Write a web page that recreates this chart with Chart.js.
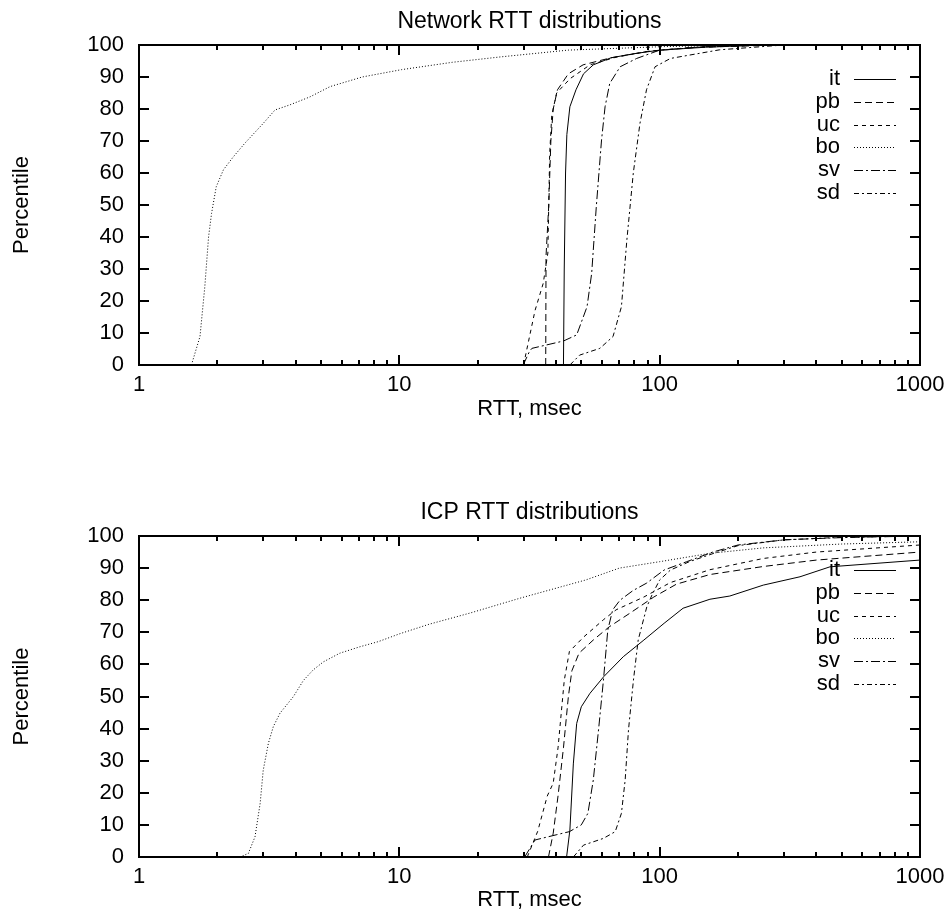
<!DOCTYPE html>
<html>
<head>
<meta charset="utf-8">
<script src="https://cdn.jsdelivr.net/npm/chart.js@4.4.1/dist/chart.umd.min.js"></script>
<style>
html, body { margin: 0; padding: 0; background: #fff; overflow: hidden; }
canvas { position: absolute; left: 0; }
#netChart { top: 0; }
#icpChart { top: 491px; }
</style>
</head>
<body>
<canvas id="netChart" width="948" height="440"></canvas>
<canvas id="icpChart" width="948" height="423"></canvas>
<script>
// Tick labels
const xTickValues = [1, 10, 100, 1000];
const yTickValues = [0, 10, 20, 30, 40, 50, 60, 70, 80, 90, 100];
const seriesLabels = ['it', 'pb', 'uc', 'bo', 'sv', 'sd'];

// Network RTT distributions: [RTT msec, percentile]
const netIt = [[42.7,0],[43,30],[43.5,60],[44,72],[45.2,80.7],[47.7,86],[51,91],[55.6,93.8],[65,96],[80,97.3],[100,98.4],[150,99.3],[250,100]];
const netPb = [[36.5,0],[36.6,34],[37.5,50],[38.2,70],[39,80],[40.5,86],[44.6,91],[50.8,93.8],[65,96],[90,98],[140,99.3],[300,100]];
const netUc = [[30,0],[33.2,17],[35.7,25.5],[37.2,35],[37.8,66],[38.5,78],[40.2,85],[45.3,89.5],[54,93.8],[68,96.2],[90,98],[130,99.2],[250,100]];
const netBo = [[1.59,0],[1.715,8.9],[1.79,24.5],[1.85,40],[1.9,47.4],[1.98,55.7],[2.11,61],[2.3,65],[2.55,69.3],[3.0,75.5],[3.33,79.7],[3.8,81.3],[4.54,83.8],[5.42,87],[7.2,90],[10.2,92.3],[16,94.6],[24.6,96.3],[44.5,98.4],[104,99.5],[233,100]];
const netSv = [[29.9,0],[31.6,4.2],[32.3,5.2],[42.7,7.5],[48,9.4],[52.6,18.2],[54.8,28.6],[57.1,49.5],[59.8,70.3],[61.7,80.7],[64.3,88],[70.5,93.2],[81.6,95.8],[100,98.4],[150,99.5],[250,100]];
const netSd = [[45.2,0],[49.3,3.1],[58.9,5.2],[66.2,8.9],[71.3,18.2],[74.8,39],[79.2,60],[84,75.5],[89,86],[96,93.2],[110,95.8],[170,98.5],[300,100]];

// ICP RTT distributions
const icpIt = [[43.9,0],[45.2,8.4],[46.6,29],[48,41.6],[50,46.8],[54,51],[61,56.2],[72.5,62.4],[87,67.6],[104,72.8],[123,77.5],[156,80.3],[186,81.3],[250,84.7],[346,87.3],[451,90.4],[1000,92.5]];
const icpPb = [[37.4,0],[39,7.4],[40.7,19],[42.7,34],[44.6,50],[46,58],[49,63.5],[55.6,67.6],[64,71.7],[77,76],[95,81],[116,85],[156,88],[250,90.5],[400,92.5],[1000,95]];
const icpUc = [[31,0],[34,8],[37,19],[39,23],[40.7,34],[43,55],[45,64],[51,68.5],[61,74],[68,77],[87,81],[110,85.5],[156,89.5],[250,93],[400,95],[1000,97.2]];
const icpBo = [[2.44,0],[2.63,1.1],[2.79,6.3],[2.92,16.7],[3.0,27],[3.14,35.4],[3.28,40.6],[3.48,44.8],[3.92,50],[4.28,55],[4.67,58.3],[5.11,60.8],[5.91,63.5],[7.06,65.5],[8.31,67.1],[10,69.5],[13,72.5],[18.7,76],[29,80.6],[52,86.3],[70,90],[100,92],[156,94.6],[250,96.3],[500,97.5],[1000,98.2]];
const icpSv = [[30.3,0],[33.2,5.3],[40,6.9],[45,7.9],[50,10],[53,13.6],[55.6,24],[58.3,40],[60.8,55],[63.2,70.7],[66,77],[70.4,80],[79,83],[89,85.3],[104,89.4],[127,92],[160,95],[200,97.2],[300,98.8],[500,99.5],[1000,100]];
const icpSd = [[46.6,0],[51,3.7],[60.8,5.8],[67.5,7.9],[71.3,13.6],[73.7,24],[75.9,39.6],[79.3,55.1],[82.7,67.6],[89.3,78],[93.4,81.6],[100,86.3],[110,89.4],[130,92],[160,94.5],[200,97],[300,98.8],[500,99.6],[1000,100]];

const dashes = [[], [7, 4], [4, 4], [1, 2], [9, 3, 2, 3], [5, 3, 2, 3]];
const fontFamily = '"Liberation Sans", Arial, Helvetica, sans-serif';
const fontSize = 22;

Chart.defaults.font.family = fontFamily;
Chart.defaults.font.size = fontSize;
Chart.defaults.color = '#000';

// gnuplot style border with inward ticks on all four sides
const frameTicks = {
    id: 'frameTicks',
    afterDatasetsDraw(chart) {
        const {ctx, chartArea: a, scales: {x, y}} = chart;
        ctx.save();
        ctx.strokeStyle = '#000';
        ctx.lineWidth = 2;
        ctx.setLineDash([]);
        ctx.beginPath();
        yTickValues.forEach(v => {
            const py = Math.round(y.getPixelForValue(v));
            ctx.moveTo(a.left, py); ctx.lineTo(a.left + 10, py);
            ctx.moveTo(a.right, py); ctx.lineTo(a.right - 10, py);
        });
        xTickValues.forEach(v => {
            const px = Math.round(x.getPixelForValue(v));
            ctx.moveTo(px, a.bottom); ctx.lineTo(px, a.bottom - 10);
            ctx.moveTo(px, a.top); ctx.lineTo(px, a.top + 10);
        });
        [1, 10, 100].forEach(d => {
            for (let m = 2; m <= 9; m++) {
                const px = Math.round(x.getPixelForValue(m * d));
                ctx.moveTo(px, a.bottom); ctx.lineTo(px, a.bottom - 5);
                ctx.moveTo(px, a.top); ctx.lineTo(px, a.top + 5);
            }
        });
        ctx.stroke();
        ctx.strokeRect(a.left, a.top, a.right - a.left, a.bottom - a.top);
        ctx.restore();
    }
};

// key in the upper right, text right-aligned with a line sample after it
const keyLegend = {
    id: 'keyLegend',
    afterDatasetsDraw(chart) {
        const {ctx, chartArea: a} = chart;
        ctx.save();
        ctx.font = fontSize + 'px ' + fontFamily;
        ctx.textAlign = 'right';
        ctx.textBaseline = 'middle';
        ctx.fillStyle = '#000';
        chart.data.datasets.forEach((ds, i) => {
            const yy = Math.round(a.top + 34 + i * 22.8);
            ctx.fillText(ds.label, a.right - 80, yy);
            ctx.setLineDash(ds.borderDash);
            ctx.lineWidth = 1;
            ctx.strokeStyle = ds.borderColor;
            ctx.beginPath();
            ctx.moveTo(a.right - 66, yy + 0.5);
            ctx.lineTo(a.right - 24, yy + 0.5);
            ctx.stroke();
        });
        ctx.restore();
    }
};

function makeChart(canvasId, titleText, series, xAxisHeight, xTitlePad) {
    const ctx = document.getElementById(canvasId).getContext('2d');
    return new Chart(ctx, {
        type: 'line',
        data: {
            datasets: series.map((pts, i) => ({
                label: seriesLabels[i],
                data: pts.map(p => ({x: p[0], y: p[1]})),
                borderColor: '#000',
                borderWidth: 1,
                borderDash: dashes[i],
                pointRadius: 0,
                tension: 0,
                fill: false
            }))
        },
        options: {
            responsive: false,
            animation: false,
            devicePixelRatio: 1,
            layout: { padding: { left: 0, right: 28, top: 0, bottom: 0 } },
            scales: {
                x: {
                    type: 'logarithmic',
                    min: 1,
                    max: 1000,
                    afterBuildTicks: ax => { ax.ticks = xTickValues.map(v => ({value: v})); },
                    afterFit: s => { s.height = xAxisHeight; s.paddingLeft = 0; s.paddingRight = 0; },
                    ticks: { autoSkip: false, maxRotation: 0, padding: 7, callback: v => String(v) },
                    grid: { display: false, drawTicks: false },
                    border: { display: false },
                    title: { display: true, text: 'RTT, msec', padding: { top: 0, bottom: xTitlePad } }
                },
                y: {
                    min: 0,
                    max: 100,
                    afterBuildTicks: ax => { ax.ticks = yTickValues.map(v => ({value: v})); },
                    afterFit: s => { s.width = 139; },
                    ticks: { padding: 15 },
                    grid: { display: false, drawTicks: false },
                    border: { display: false },
                    title: { display: true, text: 'Percentile', padding: { top: 8.8, bottom: 0 } }
                }
            },
            plugins: {
                legend: { display: false },
                tooltip: { enabled: false },
                title: {
                    display: true,
                    text: titleText,
                    fullSize: false,
                    color: '#000',
                    font: { size: 23, weight: 'normal' },
                    padding: { top: 8.2, bottom: 9.2 }
                }
            }
        },
        plugins: [frameTicks, keyLegend]
    });
}

makeChart('netChart', 'Network RTT distributions', [netIt, netPb, netUc, netBo, netSv, netSd], 75, 17.8);
makeChart('icpChart', 'ICP RTT distributions', [icpIt, icpPb, icpUc, icpBo, icpSv, icpSd], 57, 0.8);
</script>
</body>
</html>
